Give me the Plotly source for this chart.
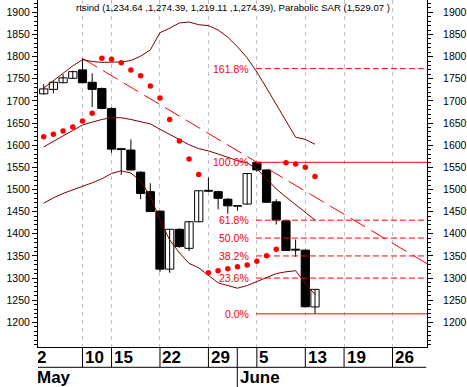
import plotly.graph_objects as go

# ---------------- data (trading-day index, 0 = 10 May) ----------------
day = list(range(-4, 25))
opens  = [1716, 1726, 1741, 1751, 1770, 1742, 1728, 1683, 1592, 1589, 1539, 1495, 1451, 1320,
          1410, 1367, 1427, 1498, 1495, 1478, 1462, 1467, 1561.3, 1544, 1472, 1429, 1365, 1363, 1234.64]
highs  = [1738, 1744, 1760, 1768, 1796, 1762, 1730, 1685, 1594, 1613, 1541, 1514, 1452, 1411,
          1412, 1429, 1498, 1527, 1497, 1480, 1464, 1537, 1561.3, 1545, 1478, 1430, 1387, 1364, 1274.39]
lows   = [1714, 1717, 1740, 1750, 1740, 1686, 1681, 1583, 1533, 1543, 1478, 1449, 1314, 1312,
          1368, 1361, 1426, 1494, 1455, 1445, 1452, 1466, 1540, 1470, 1421, 1361, 1348, 1234, 1219.11]
closes = [1727, 1742, 1752, 1766, 1741, 1726, 1683, 1591, 1590, 1544, 1491, 1450, 1320, 1410,
          1371, 1427, 1497, 1496, 1480, 1463, 1463.5, 1536, 1544, 1471, 1431, 1362, 1363, 1235, 1274.39]
sar = [1619, 1624.5, 1632, 1641, 1654.5, 1672, 1796, 1794, 1786, 1770, 1756.6, 1733.6, 1706.5, 1658,
       1609.4, 1568.7, 1533.7, 1312, 1316.5, 1321, 1325.5, 1329.4, 1337.7, 1350.4, 1364.8, 1560.4,
       1557.4, 1550, 1529.07]
bb_upper = [1729, 1746, 1762, 1779, 1793, 1789, 1787, 1788, 1788, 1791, 1801, 1815, 1854, 1864,
            1876, 1878, 1872, 1870, 1860, 1844, 1822, 1797, 1765, 1729, 1693, 1656, 1618, 1613, 1602]
bb_mid = [1596, 1609, 1621, 1633, 1645.5, 1652, 1658, 1662, 1662, 1658, 1653, 1648, 1636, 1624,
          1613, 1601, 1592, 1587, 1580, 1573, 1565, 1560, 1546, 1524, 1501, 1483, 1465, 1449, 1431]
bb_lower = [1469, 1481, 1491, 1499, 1506, 1515, 1524, 1536, 1542, 1537, 1519, 1485, 1431, 1386,
            1357, 1333, 1323, 1305, 1289, 1283, 1277, 1283, 1292, 1301, 1310, 1314, 1316.5, 1287, 1263]

tick_pos = [-5, 0, 3, 8, 13, 18, 23, 27, 32]
tick_text = ["2", "10", "15", "22", "29", "5", "13", "19", "26"]
month_pos = [-5, 16]
month_text = ["May", "June"]
ytick_vals = list(range(1200, 1901, 50))

fib_ratios = [1.618, 1.0, 0.618, 0.5, 0.382, 0.236, 0.0]
fib_labels = ["161.8%", "100.0%", "61.8%", "50.0%", "38.2%", "23.6%", "0.0%"]
fib_solid = [False, True, False, False, False, False, True]
trend_from, trend_to = 0, 18     # trend line through the two highs (day index)
fib_high_day, fib_low_day = 18, 24

title_text = "rtsind (1,234.64 ,1,274.39, 1,219.11 ,1,274.39), Parabolic SAR (1,529.07 )"

# ---------------- layout constants ----------------
XMIN, XMAX = -4.59, 35.56
YMIN, YMAX = 1144.2, 1927.8
PH = 347.0  # plot height px


def py(px):
    return (PH - px) / PH


def pxx(i):
    return (i - XMIN) / (XMAX - XMIN)


fig = go.Figure()

# wicks
wx, wy = [], []
for d, h, l in zip(day, highs, lows):
    wx += [d, d, None]
    wy += [l, h, None]
fig.add_trace(go.Scatter(x=wx, y=wy, mode="lines", line=dict(color="black", width=1),
                         hoverinfo="skip", showlegend=False))

# bodies
base = [min(o, c) for o, c in zip(opens, closes)]
height = [abs(c - o) for o, c in zip(opens, closes)]
fill = ["white" if c > o else "black" for o, c in zip(opens, closes)]
fig.add_trace(go.Bar(x=day, y=height, base=base, width=0.85,
                     marker=dict(color=fill, line=dict(color="black", width=1)),
                     showlegend=False, hoverinfo="skip"))

annotations = []

# fib lines
hi_i = day.index(fib_high_day)
lo_i = day.index(fib_low_day)
lo = lows[lo_i]
hi = highs[hi_i]
for r, lab, solid in zip(fib_ratios, fib_labels, fib_solid):
    lv = lo + r * (hi - lo)
    fig.add_trace(go.Scatter(x=[day[hi_i] - 0.1, XMAX], y=[lv, lv], mode="lines",
                             line=dict(color="#ff0000", width=1, dash="solid" if solid else "6px,3px"),
                             hoverinfo="skip", showlegend=False))
    annotations.append(dict(x=day[hi_i], y=lv, xref="x", yref="y", text=lab, showarrow=False,
                            xanchor="right", yanchor="middle", xshift=-6,
                            font=dict(family="Arial", size=10.5, color="#ff0000")))

# trend line
i0 = day.index(trend_from)
i1 = day.index(trend_to)
slope = (highs[i1] - highs[i0]) / (day[i1] - day[i0])
fig.add_trace(go.Scatter(x=[day[i0], XMAX], y=[highs[i0], highs[i0] + slope * (XMAX - day[i0])],
                         mode="lines", line=dict(color="#ff0000", width=1, dash="17px,7px"),
                         hoverinfo="skip", showlegend=False))

# bands
for band in (bb_upper, bb_mid, bb_lower):
    fig.add_trace(go.Scatter(x=day, y=band, mode="lines", line=dict(color="#800000", width=1),
                             hoverinfo="skip", showlegend=False))

# SAR
fig.add_trace(go.Scatter(x=day, y=sar, mode="markers",
                         marker=dict(color="#ff0000", size=5.5, symbol="circle", line=dict(width=0)),
                         hoverinfo="skip", showlegend=False))

# invisible trace for right axis
fig.add_trace(go.Scatter(x=[day[0]], y=[sar[0]], yaxis="y2", mode="markers",
                         marker=dict(opacity=0), hoverinfo="skip", showlegend=False))

shapes = []
# day row separators
for t in tick_pos:
    if XMIN <= t <= XMAX:
        shapes.append(dict(type="line", xref="paper", yref="paper", x0=pxx(t), x1=pxx(t),
                           y0=py(347), y1=py(367), line=dict(color="black", width=1)))
for t in month_pos:
    if XMIN <= t <= XMAX:
        shapes.append(dict(type="line", xref="paper", yref="paper", x0=pxx(t) - 0.0005, x1=pxx(t) - 0.0005,
                           y0=py(347), y1=py(387), line=dict(color="black", width=1)))
shapes.append(dict(type="line", xref="paper", yref="paper", x0=-0.004, x1=0.998,
                   y0=py(367.3), y1=py(367.3), line=dict(color="black", width=1)))

for t, s in zip(tick_pos, tick_text):
    annotations.append(dict(x=pxx(t), y=py(357.5), xref="paper", yref="paper", text=s, showarrow=False,
                            xanchor="left", yanchor="middle", xshift=0.5,
                            font=dict(family="Arial", size=17, color="black", weight="bold")))
for t, s in zip(month_pos, month_text):
    annotations.append(dict(x=pxx(t), y=py(377.5), xref="paper", yref="paper", text=s, showarrow=False,
                            xanchor="left", yanchor="middle", xshift=0.5,
                            font=dict(family="Arial", size=17, color="black", weight="bold")))
annotations.append(dict(x=0.5, y=py(7.5), xref="paper", yref="paper", text=title_text,
                        showarrow=False, xanchor="center", yanchor="middle",
                        font=dict(family="Arial", size=9.6, color="black")))
# white mask so that labels are clipped at the left edge of the plot area
annotations.append(dict(x=0, y=py(348), xref="paper", yref="paper", text="M", showarrow=False,
                        xanchor="right", yanchor="top", width=16, height=40, bgcolor="white",
                        borderpad=0, borderwidth=0, xshift=-0.5,
                        font=dict(color="white", size=10)))

yax = dict(range=[YMIN, YMAX], tickmode="array", tickvals=ytick_vals, showgrid=False, zeroline=False,
           showline=True, linecolor="black", linewidth=1, ticks="outside", ticklen=5,
           tickcolor="black", tickfont=dict(family="Arial", size=10.5, color="black"),
           minor=dict(tickmode="linear", tick0=1200, dtick=10, ticks="outside", ticklen=3,
                      tickcolor="black"),
           fixedrange=True)

fig.update_layout(
    width=467, height=387,
    margin=dict(l=38, r=38, t=0, b=40, pad=0),
    paper_bgcolor="white", plot_bgcolor="white",
    showlegend=False, barmode="overlay",
    xaxis=dict(range=[XMIN, XMAX], tickvals=tick_pos, showticklabels=False, ticks="",
               showgrid=True, gridcolor="#c0c0c0", griddash="4px,4px", gridwidth=1,
               zeroline=False, showline=True, linecolor="black", linewidth=1),
    yaxis=yax,
    yaxis2=dict(yax, overlaying="y", side="right", ticklabelstandoff=8),
    shapes=shapes,
    annotations=annotations,
)

fig.write_html("out.html")
